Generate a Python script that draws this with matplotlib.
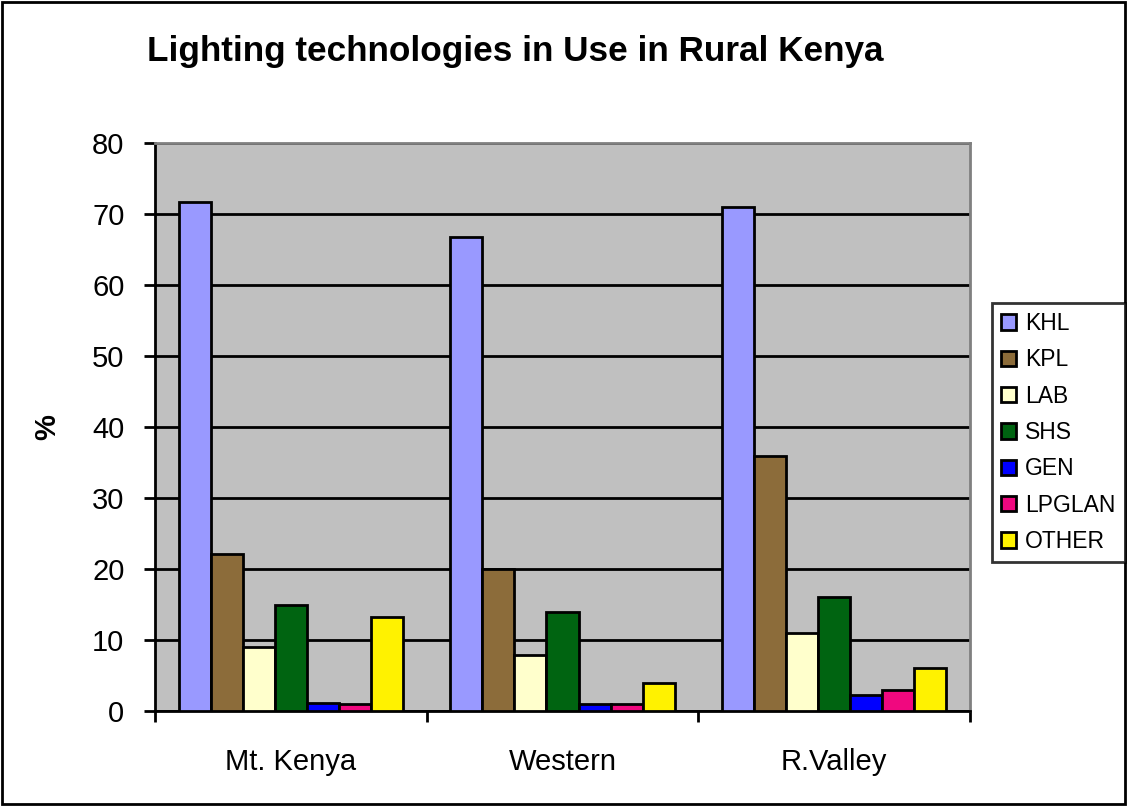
import numpy as np
import matplotlib.pyplot as plt
from matplotlib.patches import Rectangle

regions = ['Mt. Kenya', 'Western', 'R.Valley']
techs = ['KHL', 'KPL', 'LAB', 'SHS', 'GEN', 'LPGLAN', 'OTHER']
values = {
    'KHL':    [71.7, 66.8, 71.0],
    'KPL':    [22.1, 20.0, 35.9],
    'LAB':    [9.0, 7.9, 11.0],
    'SHS':    [15.0, 13.9, 16.0],
    'GEN':    [1.1, 1.0, 2.2],
    'LPGLAN': [1.0, 1.0, 3.0],
    'OTHER':  [13.2, 3.9, 6.0],
}
colors = ['#9999FF', '#8C6C3A', '#FFFFCC', '#006411', '#0000FF', '#F0087F', '#FFF200']

plt.rcParams['font.family'] = ['Liberation Sans', 'DejaVu Sans']

fig = plt.figure(figsize=(11.27, 8.06), dpi=100)
W, H = 1127, 806
ax = fig.add_axes([155 / W, 1 - 711 / H, (970 - 155) / W, (711 - 143) / H])
ax.set_facecolor('#C0C0C0')

# border round the whole chart
fig.patches.append(Rectangle((2 / W, 2 / H), 1 - 4 / W, 1 - 4 / H, transform=fig.transFigure,
                             fill=False, edgecolor='black', linewidth=2))

x = np.arange(len(regions))
n = len(techs)
bw = 0.825 / n
for i, t in enumerate(techs):
    ax.bar(x - 0.4125 + bw * (i + 0.5), values[t], width=bw, color=colors[i],
           edgecolor='black', linewidth=2, label=t, zorder=3)

ax.set_xlim(-0.5, 2.5)
ax.set_ylim(0, 80)
ax.set_yticks(range(0, 81, 10))
ax.yaxis.grid(True, color='black', linewidth=2, zorder=1)
ax.set_axisbelow(True)
ax.set_xticks(x)
ax.set_xticklabels(regions, fontsize=21)
ax.set_xticks([-0.5, 0.5, 1.5, 2.5], minor=True)
ax.tick_params(axis='x', which='major', length=0, pad=27)
ax.tick_params(axis='x', which='minor', length=8, width=2, direction='out')
ax.tick_params(axis='y', labelsize=21, length=8, width=2, direction='out', pad=14)

for s in ['top', 'right']:
    ax.spines[s].set_color('#808080')
    ax.spines[s].set_linewidth(2)
for s in ['left', 'bottom']:
    ax.spines[s].set_color('black')
    ax.spines[s].set_linewidth(2)

ax.set_ylabel('%', fontsize=21, fontweight='bold', labelpad=22)

fig.text(147 / W, 1 - 52 / H, 'Lighting technologies in Use in Rural Kenya',
         fontsize=25.3, fontweight='bold', ha='left', va='center')

leg = fig.legend(loc='upper left', bbox_to_anchor=(992 / W, 1 - 303 / H),
                 fontsize=16.5, frameon=True, fancybox=False, edgecolor='black',
                 handlelength=0.65, handleheight=0.65, handletextpad=0.4,
                 labelspacing=0.58, borderpad=0.4, borderaxespad=0)
leg.get_frame().set_linewidth(2)

fig.savefig('out.png', dpi=100)
